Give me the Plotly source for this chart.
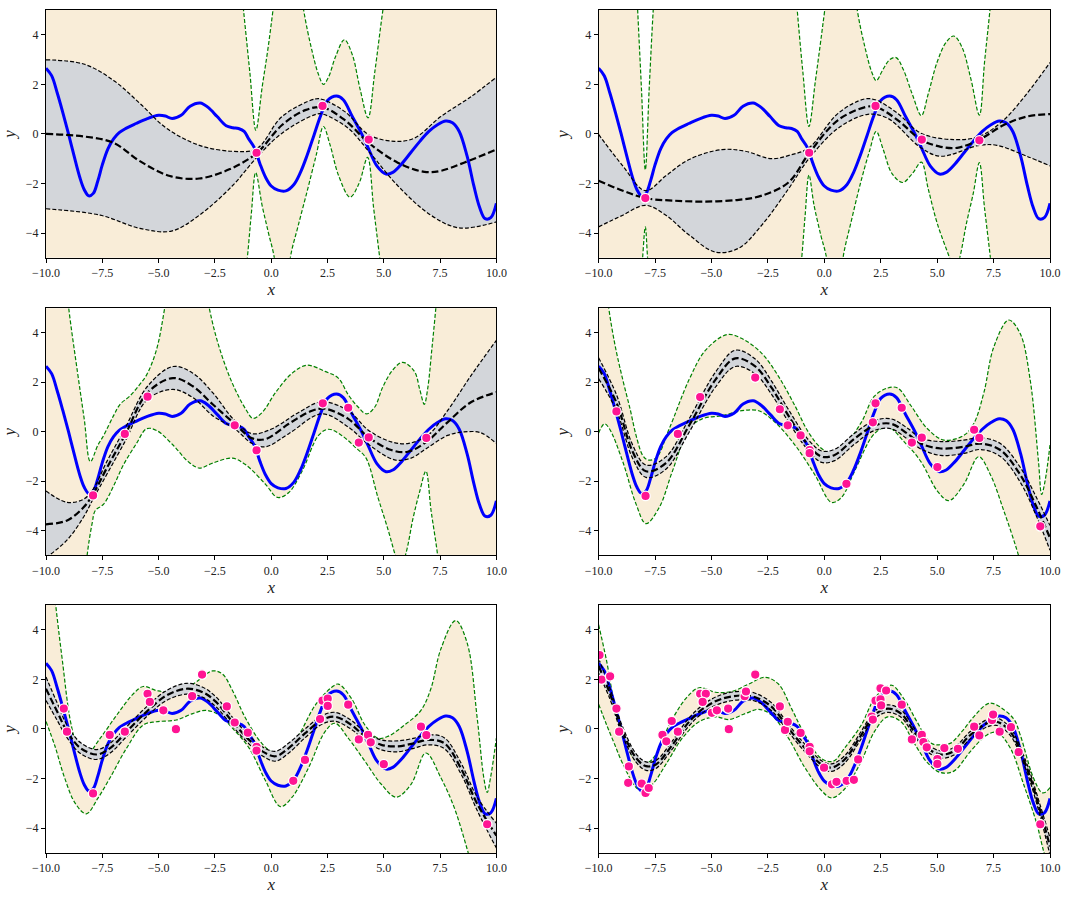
import plotly.graph_objects as go

# ---------------- styling constants ----------------
TAN = "rgb(249,237,216)"
GRAY = "rgb(211,214,218)"
GREEN = "rgb(0,128,0)"
BLUE = "rgb(0,0,255)"
PINK = "rgb(255,20,147)"
FONT = "Liberation Serif"

X_TICKS = [-10.0, -7.5, -5.0, -2.5, 0.0, 2.5, 5.0, 7.5, 10.0]
X_TICK_TEXT = ["\u221210.0", "\u22127.5", "\u22125.0", "\u22122.5", "0.0", "2.5", "5.0", "7.5", "10.0"]
Y_TICKS = [-4, -2, 0, 2, 4]
Y_TICK_TEXT = ["\u22124", "\u22122", "0", "2", "4"]

# ---------------- true function (blue) ----------------
TRUE_CURVE = [(-10, 2.65), (-9.75, 2.35), (-9.5, 1.65), (-9.25, 0.85), (-9.0, 0.0), (-8.75, -0.9),
              (-8.5, -1.75), (-8.3, -2.25), (-8.1, -2.5), (-7.9, -2.4), (-7.7, -1.9), (-7.5, -1.25),
              (-7.25, -0.6), (-7.0, -0.2), (-6.75, 0.05), (-6.5, 0.2), (-6.0, 0.42), (-5.5, 0.62),
              (-5.0, 0.75), (-4.7, 0.72), (-4.4, 0.62), (-4.0, 0.75), (-3.6, 1.12), (-3.15, 1.25),
              (-2.8, 1.07), (-2.4, 0.7), (-2.0, 0.33), (-1.7, 0.25), (-1.45, 0.22), (-1.2, 0.1),
              (-1.0, -0.2), (-0.75, -0.55), (-0.5, -1.2), (-0.25, -1.75), (0.0, -2.1), (0.3, -2.27),
              (0.65, -2.3), (1.0, -2.05), (1.3, -1.55), (1.6, -0.85), (1.9, -0.05), (2.2, 0.75),
              (2.5, 1.35), (2.9, 1.53), (3.2, 1.38), (3.6, 0.7), (4.0, 0.03), (4.3, -0.55),
              (4.7, -1.3), (5.1, -1.62), (5.4, -1.55), (5.8, -1.2), (6.2, -0.75), (6.6, -0.3),
              (7.0, 0.1), (7.4, 0.38), (7.75, 0.52), (8.05, 0.45), (8.35, 0.1), (8.7, -0.9),
              (9.0, -2.1), (9.25, -2.95), (9.5, -3.42), (9.75, -3.38), (10, -2.8)]

# ---------------- panel 1 ----------------
P1_X = [-0.65, 2.28, 4.33]
P1_Y = [-0.76, 1.13, -0.23]
P1_MEAN = [(-10, 0.0), (-8.33, -0.1), (-7.0, -0.36), (-5.83, -1.1), (-4.5, -1.7), (-3.2, -1.8),
           (-1.86, -1.43), (-0.65, -0.78), (0.48, 0.36), (1.51, 0.96), (2.28, 1.07), (3.27, 0.56),
           (4.33, -0.36), (5.62, -1.16), (6.8, -1.53), (7.53, -1.49), (8.56, -1.16), (10, -0.63)]
P1_UP = [(-10, 2.99), (-8.33, 2.82), (-7.0, 2.16), (-5.83, 1.23), (-4.65, 0.23), (-3.19, -0.46),
         (-1.72, -0.7), (-0.65, -0.6), (0.48, 0.7), (1.95, 1.41), (2.28, 1.39), (3.27, 0.9),
         (4.33, -0.03), (5.48, -0.3), (6.36, -0.17), (7.53, 0.7), (8.85, 1.49), (10, 2.29)]
P1_LO = [(-10, -3.02), (-7.59, -3.28), (-5.83, -3.81), (-4.43, -3.92), (-3.19, -3.28), (-1.72, -2.09),
         (-0.65, -0.96), (0.48, 0.03), (1.95, 0.78), (2.28, 0.8), (3.42, 0.23), (4.33, -0.7),
         (5.62, -2.09), (7.09, -3.28), (8.34, -3.79), (10, -3.55)]
P1_GT = [(-10, 9), (-2.0, 9), (-1.45, 7.0), (-1.23, 5.0), (-0.95, 2.5), (-0.68, 0.15), (-0.4, 1.9),
         (-0.15, 3.4), (0.08, 5.0), (0.35, 7.0), (0.8, 9), (1.15, 7.0), (1.44, 5.0), (1.8, 3.4),
         (2.1, 2.4), (2.32, 2.0), (2.55, 2.3), (2.85, 3.1), (3.25, 3.8), (3.6, 3.2), (3.95, 1.8),
         (4.3, 0.65), (4.6, 2.5), (4.96, 5.0), (5.3, 7.0), (5.8, 9), (10, 9)]
P1_GB = [(-10, -9), (-2.0, -9), (-1.3, -7), (-1.06, -5.0), (-0.88, -3.2), (-0.69, -1.56), (-0.4, -2.9),
         (-0.12, -4.0), (0.14, -5.0), (0.4, -7), (0.6, -8), (0.75, -6.5), (0.85, -5.0), (1.2, -3.7),
         (1.6, -2.3), (2.0, -0.85), (2.32, 0.3), (2.6, -0.4), (3.0, -1.7), (3.5, -2.55), (3.9, -2.0),
         (4.28, -0.95), (4.55, -3.0), (4.82, -5.0), (5.1, -7.0), (5.6, -9), (10, -9)]

# ---------------- panel 2 ----------------
P2_X = [-7.93, -0.67, 2.27, 4.32, 6.87]
P2_Y = [-2.59, -0.76, 1.13, -0.23, -0.26]
P2_MEAN = [(-10, -1.89), (-8.93, -2.29), (-7.93, -2.59), (-6.73, -2.69), (-5.26, -2.73), (-3.79, -2.66),
           (-2.77, -2.49), (-1.59, -1.96), (-0.68, -0.79), (0.61, 0.56), (1.86, 1.09), (2.3, 1.09),
           (3.25, 0.56), (4.28, -0.23), (5.16, -0.52), (5.89, -0.56), (6.87, -0.23), (7.95, 0.36),
           (8.97, 0.7), (10, 0.8)]
P2_UP = [(-10, -0.02), (-8.93, -1.29), (-7.93, -2.29), (-7.02, -1.69), (-5.99, -1.03), (-4.53, -0.63),
         (-3.5, -0.7), (-2.33, -1.0), (-1.5, -0.85), (-0.68, -0.56), (0.61, 0.83), (1.78, 1.41),
         (2.3, 1.36), (3.25, 0.83), (4.28, 0.03), (5.74, -0.23), (6.87, -0.1), (7.95, 0.56),
         (8.97, 1.62), (10, 2.88)]
P2_LO = [(-10, -3.75), (-8.93, -3.28), (-7.93, -2.88), (-7.02, -3.28), (-5.99, -4.08), (-4.82, -4.77),
         (-3.79, -4.61), (-2.77, -3.68), (-1.59, -2.22), (-0.68, -1.0), (0.61, 0.23), (1.93, 0.79),
         (2.81, 0.63), (4.28, -0.56), (5.16, -0.9), (6.87, -0.46), (7.65, -0.46), (8.97, -0.9),
         (10, -1.29)]
P2_GT = [(-10, 9), (-8.6, 9), (-8.4, 7.5), (-8.27, 5.0), (-8.1, 1.8), (-7.93, -1.45), (-7.76, 1.8),
         (-7.58, 5.0), (-7.4, 7.5), (-7.2, 9), (-1.6, 9), (-1.4, 7.2), (-1.2, 5.0), (-0.95, 2.5),
         (-0.68, 0.3), (-0.4, 2.1), (-0.18, 3.6), (0.02, 5.0), (0.3, 7), (0.8, 9), (1.2, 7),
         (1.46, 5.0), (1.8, 3.5), (2.1, 2.5), (2.3, 2.15), (2.6, 2.6), (2.9, 3.0), (3.18, 3.08),
         (3.5, 2.6), (3.9, 1.6), (4.3, 0.74), (4.6, 1.6), (5.0, 2.9), (5.4, 3.7), (5.74, 3.95),
         (6.1, 3.5), (6.5, 2.2), (6.87, 0.76), (7.1, 2.9), (7.34, 5.0), (7.6, 7.5), (8.0, 9), (10, 9)]
P2_GB = [(-10, -9), (-8.4, -9), (-8.2, -7), (-8.05, -5.0), (-7.93, -3.75), (-7.83, -5.0), (-7.65, -7),
         (-7.4, -9), (-1.5, -9), (-1.2, -6.8), (-1.0, -5.0), (-0.85, -3.3), (-0.68, -1.66),
         (-0.45, -2.9), (-0.15, -4.1), (0.1, -5.0), (0.35, -7), (0.55, -8), (0.7, -6.5), (0.83, -5.0),
         (1.2, -3.5), (1.6, -2.0), (2.0, -0.7), (2.3, 0.1), (2.6, -0.6), (3.0, -1.6), (3.47, -1.96),
         (3.9, -1.6), (4.3, -1.14), (4.6, -2.2), (5.0, -3.6), (5.55, -5.0), (5.78, -5.6), (6.0, -5.0),
         (6.3, -3.6), (6.6, -2.4), (6.87, -1.16), (7.1, -3.0), (7.36, -5.0), (7.6, -7), (8.0, -9),
         (10, -9)]

# ---------------- panel 3 ----------------
P3_X = [-7.91, -6.5, -5.49, -1.62, -0.65, 2.29, 3.42, 3.89, 4.33, 6.89]
P3_Y = [-2.58, -0.09, 1.42, 0.26, -0.75, 1.15, 0.97, -0.44, -0.23, -0.25]
P3_MEAN = [(-10, -3.75), (-9.06, -3.59), (-8.33, -3.06), (-7.91, -2.53), (-7.3, -1.47), (-6.5, -0.15),
           (-5.49, 1.58), (-4.36, 2.17), (-3.48, 1.84), (-2.6, 1.11), (-1.62, 0.32), (-0.84, -0.27),
           (-0.25, -0.3), (0.78, 0.32), (1.81, 0.85), (2.39, 0.93), (3.42, 0.52), (4.33, -0.23),
           (5.33, -0.74), (6.06, -0.81), (6.89, -0.41), (7.83, 0.38), (8.85, 1.18), (10, 1.6)]
P3_UP = [(-10, -2.4), (-9.06, -2.86), (-8.33, -2.73), (-7.91, -2.33), (-7.3, -1.21), (-6.5, 0.12),
         (-5.49, 1.84), (-4.36, 2.64), (-3.48, 2.37), (-2.6, 1.58), (-1.62, 0.45), (-0.84, -0.08),
         (0.04, 0.12), (1.22, 0.78), (2.25, 1.21), (3.42, 0.85), (4.33, 0.05), (5.33, -0.41),
         (6.06, -0.48), (6.95, -0.15), (7.83, 0.85), (8.85, 2.24), (10, 3.7)]
P3_LO = [(-10, -5.1), (-9.06, -4.38), (-8.33, -3.45), (-7.91, -2.73), (-6.5, -0.41), (-5.49, 1.31),
         (-4.36, 1.71), (-3.48, 1.38), (-2.6, 0.65), (-1.62, 0.12), (-0.84, -0.48), (-0.25, -0.61),
         (0.78, -0.08), (2.25, 0.72), (3.42, 0.19), (4.33, -0.52), (5.48, -1.14), (6.21, -1.07),
         (6.89, -0.68), (7.83, -0.15), (8.56, -0.01), (9.3, -0.04), (10, -0.48)]
P3_GT = [(-10, 9), (-9.4, 9), (-9.2, 7), (-8.99, 5.0), (-8.6, 2.4), (-8.3, 0.5), (-8.03, -1.21),
         (-7.7, -0.55), (-7.44, -0.15), (-7.0, 0.65), (-6.71, 1.11), (-6.27, 1.45), (-5.85, 1.9),
         (-5.53, 2.3), (-5.1, 3.3), (-4.73, 5.0), (-4.4, 7), (-3.8, 9), (-3.2, 7.5), (-2.75, 5.0),
         (-2.31, 3.42), (-1.73, 1.97), (-1.13, 0.91), (-0.81, 0.54), (-0.4, 0.78), (0.19, 1.58),
         (0.93, 2.37), (1.59, 2.69), (2.39, 2.44), (2.98, 2.17), (3.42, 1.5), (3.86, 1.0), (4.23, 0.72),
         (4.6, 1.0), (4.95, 1.8), (5.4, 2.5), (5.84, 2.81), (6.36, 2.44), (6.6, 1.7), (6.8, 1.11),
         (6.95, 1.75), (7.13, 3.3), (7.31, 5.0), (7.5, 7), (7.9, 9), (10, 9)]
P3_GB = [(-10, -9), (-8.6, -9), (-8.35, -7), (-8.18, -5.05), (-7.95, -3.7), (-7.81, -3.19), (-7.44, -2.93),
         (-7.0, -2.2), (-6.56, -1.34), (-6.0, -0.5), (-5.53, 0.12), (-5.09, 0.05), (-4.36, -0.54),
         (-3.7, -1.2), (-3.19, -1.47), (-2.6, -1.27), (-1.72, -1.07), (-1.13, -1.34), (-0.25, -2.13),
         (0.28, -2.66), (0.78, -2.46), (1.37, -1.6), (2.1, -0.15), (2.54, 0.1), (3.13, -0.15),
         (3.79, -0.68), (4.2, -1.05), (4.74, -2.66), (5.2, -4.0), (5.48, -4.91), (5.72, -5.6),
         (5.99, -4.9), (6.3, -3.5), (6.6, -2.4), (6.87, -1.6), (7.1, -3.2), (7.39, -5.0), (7.6, -7),
         (8.0, -9), (10, -9)]

# ---------------- panel 4 ----------------
P4_X = [-9.21, -7.92, -6.49, -5.5, -3.06, -1.97, -1.62, -1.05, -0.65, -0.65,
        0.98, 2.15, 2.27, 3.43, 3.88, 4.32, 5.01, 6.64, 6.87, 9.57]
P4_Y = [0.82, -2.6, -0.09, 1.4, 2.19, 0.91, 0.26, -0.15, -0.74, -0.87,
        -2.11, 0.38, 1.15, 0.97, -0.44, -0.24, -1.43, 0.08, -0.25, -3.83]
# (x, mean, half-width of grey band)
P4_MEAN = [(-10, 2.57, 0.42), (-9.21, 1.18, 0.32), (-8.49, -0.81, 0.27), (-7.9, -1.6, 0.25),
           (-7.02, -1.27, 0.25), (-5.99, 0.25, 0.27), (-4.82, 2.11, 0.3), (-3.94, 2.97, 0.33),
           (-3.06, 2.64, 0.3), (-2.33, 1.77, 0.27), (-1.59, 0.65, 0.25), (-0.71, -0.54, 0.22),
           (-0.12, -1.01, 0.23), (0.46, -0.94, 0.23), (1.34, -0.28, 0.22), (2.22, 0.25, 0.2),
           (2.96, 0.32, 0.2), (3.69, -0.08, 0.22), (4.28, -0.48, 0.22), (5.16, -0.68, 0.28),
           (6.18, -0.61, 0.27), (6.92, -0.48, 0.24), (7.8, -0.74, 0.26), (8.68, -1.74, 0.3),
           (9.41, -3.06, 0.38), (10, -4.3, 0.5)]
P4_GT = [(-10, 9), (-9.8, 7), (-9.55, 5.0), (-9.25, 3.4), (-8.93, 2.11), (-8.6, 0.9), (-8.34, -0.15),
         (-8.05, -0.95), (-7.83, -1.14), (-7.46, -1.07), (-6.87, 0.12), (-5.99, 2.11), (-5.26, 3.3),
         (-4.31, 3.93), (-3.65, 3.77), (-2.77, 3.17), (-2.03, 2.24), (-1.3, 1.05), (-0.71, -0.01),
         (-0.12, -0.68), (0.32, -0.87), (0.9, -0.54), (1.64, 0.38), (2.22, 1.44), (2.81, 1.77),
         (3.25, 1.77), (3.84, 1.05), (4.57, 0.12), (5.3, -0.34), (6.18, -0.15), (6.62, 0.32),
         (7.07, 1.58), (7.51, 3.43), (8.17, 4.52), (8.68, 3.97), (9.12, 2.11), (9.49, -1.21),
         (9.63, -2.54), (9.78, -2.0), (10, -0.54)]
P4_GB = [(-10, -0.05), (-9.74, 0.32), (-9.52, 0.12), (-8.93, -1.21), (-8.34, -2.93), (-7.9, -3.72),
         (-7.31, -3.06), (-6.73, -1.6), (-5.99, 0.12), (-5.41, 0.52), (-4.53, 0.65), (-3.65, 0.85),
         (-2.91, 0.85), (-2.18, 0.38), (-1.3, -0.54), (-0.42, -1.74), (0.32, -2.86), (0.76, -2.66),
         (1.34, -1.6), (2.22, -0.08), (2.81, 0.19), (3.54, -0.41), (4.28, -1.21), (5.01, -2.4),
         (5.52, -2.79), (6.18, -2.13), (6.84, -1.01), (7.36, -1.74), (7.95, -3.19), (8.53, -4.78),
         (8.9, -6), (9.3, -7.5), (10, -9)]

# ---------------- panel 5 ----------------
P5_X = [-9.21, -9.07, -7.91, -7.17, -6.5, -5.49, -5.39, -4.79, -4.23, -3.51,
        -3.07, -1.97, -1.62, -1.04, -0.65, -0.65, 0.98, 1.5, 2.17, 2.28,
        2.51, 2.51, 3.42, 3.89, 4.3, 4.42, 5.0, 6.65, 6.89, 9.59]
P5_Y = [0.82, -0.11, -2.6, -0.24, -0.11, 1.42, 1.09, 0.75, -0.01, 1.32,
        2.19, 0.91, 0.26, -0.15, -0.72, -0.87, -2.09, -1.25, 0.4, 1.14,
        1.22, 0.93, 0.98, -0.42, -0.24, -0.54, -1.42, 0.09, -0.25, -3.84]
P5_MEAN = [(-10, 1.62, 0.47), (-9.5, 0.69, 0.35), (-9.06, -0.11, 0.25), (-8.47, -0.77, 0.22),
           (-7.74, -1.03, 0.2), (-7.15, -0.77, 0.2), (-6.42, -0.11, 0.2), (-5.54, 0.69, 0.2),
           (-4.65, 1.35, 0.2), (-3.77, 1.62, 0.22), (-3.04, 1.48, 0.2), (-2.45, 1.09, 0.2),
           (-1.72, 0.29, 0.18), (-0.98, -0.44, 0.17), (-0.4, -0.9, 0.18), (0.19, -1.1, 0.2),
           (0.78, -0.77, 0.2), (1.51, -0.17, 0.18), (2.25, 0.36, 0.17), (2.83, 0.49, 0.18),
           (3.57, 0.16, 0.18), (4.16, -0.3, 0.17), (4.89, -0.64, 0.2), (5.62, -0.7, 0.22),
           (6.36, -0.57, 0.2), (6.95, -0.44, 0.2), (7.68, -0.57, 0.22), (8.41, -1.56, 0.22),
           (9.15, -3.02, 0.27), (10, -4.3, 0.5)]
P5_GT = [(-10, 9), (-9.8, 7), (-9.57, 5.0), (-9.28, 2.81), (-8.91, 0.29), (-8.62, -0.64), (-8.21, -1.03),
         (-7.59, -0.37), (-6.86, 0.56), (-6.12, 1.42), (-5.68, 1.71), (-5.1, 1.55), (-4.36, 1.48),
         (-3.48, 1.81), (-2.6, 2.34), (-2.16, 2.21), (-1.72, 1.55), (-1.13, 0.42), (-0.4, -0.6),
         (0.19, -1.0), (0.63, -0.85), (1.22, -0.24), (1.95, 0.95), (2.69, 1.68), (2.98, 1.81),
         (3.57, 1.22), (4.16, 0.16), (4.74, -0.37), (5.18, -0.3), (5.92, 0.16), (6.65, 0.75),
         (7.09, 1.62), (7.53, 3.21), (8.19, 4.37), (8.7, 3.47), (9.15, 0.42), (9.44, -1.96),
         (9.59, -2.56), (9.74, -1.96), (10, -0.37)]
P5_GB = [(-10, 0.3), (-9.6, -0.7), (-9.2, -1.9), (-8.7, -3.0), (-8.21, -3.42), (-7.7, -2.8),
         (-7.15, -1.96), (-6.42, -0.77), (-5.68, 0.16), (-5.1, 0.29), (-4.22, 0.36), (-3.48, 0.62),
         (-2.89, 0.75), (-2.31, 0.56), (-1.72, 0.03), (-0.98, -0.77), (-0.25, -2.09), (0.41, -3.13),
         (0.93, -2.75), (1.66, -1.56), (2.39, -0.11), (2.83, 0.23), (3.42, -0.37), (4.16, -1.3),
         (4.89, -2.23), (5.55, -2.75), (6.21, -2.23), (6.87, -0.97), (7.53, -1.96), (8.12, -3.15),
         (8.71, -4.87), (9.2, -6.5), (10, -8)]

# ---------------- panel 6 ----------------
P6_POINTS = [(-9.96, 2.98), (-9.87, 1.99), (-9.49, 2.12), (-9.21, 0.82), (-9.09, -0.11), (-8.66, -1.51),
             (-8.69, -2.17), (-8.09, -2.2), (-7.92, -2.58), (-7.78, -2.38), (-7.17, -0.24), (-7.0, -0.5),
             (-6.76, 0.32), (-6.49, -0.11), (-5.5, 1.42), (-5.25, 1.42), (-5.39, 1.09), (-4.98, 0.65),
             (-4.76, 0.75), (-4.26, 0.82), (-4.23, -0.01), (-3.53, 1.32), (-3.47, 1.51), (-3.06, 2.19),
             (-1.97, 0.91), (-1.74, -0.04), (-1.62, 0.29), (-1.05, -0.16), (-0.65, -0.72), (-0.65, -0.9),
             (-0.01, -1.56), (0.34, -2.23), (0.54, -2.13), (0.99, -2.09), (1.31, -2.05), (1.5, -1.23),
             (2.1, 0.5), (2.15, 0.38), (2.27, 1.14), (2.49, 1.64), (2.49, 1.19), (2.52, 0.95),
             (2.74, 1.55), (3.43, 0.98), (3.88, -0.42), (4.32, -0.24), (4.39, -0.53), (4.54, -0.74),
             (5.01, -1.21), (5.01, -1.41), (5.32, -0.77), (5.92, -0.8), (6.64, 0.09), (6.87, -0.26),
             (7.43, 0.36), (7.48, 0.58), (7.77, -0.11), (8.27, 0.07), (8.61, -0.93), (9.57, -3.84)]
P6_MEAN = [(-10, 2.54, 0.3), (-9.52, 1.48, 0.22), (-8.93, -0.11, 0.18), (-8.34, -1.17, 0.17),
           (-7.9, -1.5, 0.17), (-7.46, -1.43, 0.16), (-6.73, -0.64, 0.16), (-5.99, 0.29, 0.16),
           (-5.26, 0.89, 0.16), (-4.53, 1.22, 0.17), (-3.65, 1.35, 0.17), (-3.06, 1.28, 0.16),
           (-2.33, 0.89, 0.16), (-1.59, 0.03, 0.15), (-0.86, -0.77, 0.15), (-0.12, -1.43, 0.15),
           (0.32, -1.56, 0.15), (0.9, -1.23, 0.15), (1.64, -0.24, 0.15), (2.22, 0.56, 0.15),
           (2.81, 0.82, 0.15), (3.4, 0.62, 0.15), (3.98, -0.11, 0.15), (4.57, -0.77, 0.15),
           (5.16, -1.03, 0.15), (5.74, -0.9, 0.15), (6.48, -0.24, 0.15), (7.21, 0.23, 0.15),
           (7.65, 0.29, 0.15), (8.24, -0.11, 0.15), (8.97, -1.56, 0.17), (9.56, -3.28, 0.22),
           (10, -4.74, 0.35)]
P6_GT = [(-10, 4.2), (-9.66, 2.81), (-9.22, 0.69), (-8.78, -0.5), (-8.34, -1.3), (-7.9, -1.4),
         (-7.46, -1.03), (-6.87, 0.16), (-6.14, 1.22), (-5.55, 1.66), (-4.82, 1.48), (-4.09, 1.51),
         (-3.35, 1.81), (-2.62, 2.08), (-2.03, 1.81), (-1.45, 0.82), (-0.86, -0.24), (-0.12, -1.2),
         (0.4, -1.3), (0.9, -0.77), (1.64, 0.16), (2.22, 1.22), (2.81, 1.72), (3.03, 1.75),
         (3.62, 1.08), (4.1, 0.3), (4.72, -0.57), (5.16, -0.64), (5.6, -0.57), (6.1, -0.1),
         (6.62, 0.49), (7.21, 1.0), (7.5, 1.02), (8.38, 0.42), (8.68, -0.24), (9.26, -1.96),
         (9.63, -2.56), (9.78, -2.56), (10, -2.36)]
P6_GB = [(-10, 1.0), (-9.66, 0.2), (-9.3, -0.6), (-8.93, -1.4), (-8.34, -2.36), (-8.05, -2.49),
         (-7.61, -2.23), (-7.02, -1.43), (-6.29, -0.37), (-5.55, 0.29), (-4.82, 0.49), (-4.23, 0.38),
         (-3.5, 0.62), (-2.91, 0.79), (-2.33, 0.56), (-1.59, -0.37), (-0.86, -1.56), (-0.12, -2.49),
         (0.32, -2.78), (0.9, -2.42), (1.64, -1.3), (2.22, -0.11), (2.81, 0.49), (3.4, 0.29),
         (3.98, -0.57), (4.57, -1.36), (5.16, -1.76), (5.74, -1.7), (6.48, -0.9), (7.21, -0.24),
         (7.65, -0.14), (8.24, -0.77), (8.83, -2.23), (9.41, -3.81), (9.7, -4.87), (10, -5.8)]


def unzip(pairs):
    return [p[0] for p in pairs], [p[1] for p in pairs]


def band_from_mean(triples):
    xs = [t[0] for t in triples]
    m = [t[1] for t in triples]
    up = [(t[0], t[1] + t[2]) for t in triples]
    lo = [(t[0], t[1] - t[2]) for t in triples]
    return list(zip(xs, m)), up, lo


p4m, p4u, p4l = band_from_mean(P4_MEAN)
p5m, p5u, p5l = band_from_mean(P5_MEAN)
p6m, p6u, p6l = band_from_mean(P6_MEAN)
p6x, p6y = unzip(P6_POINTS)

PANELS = [
    dict(px=P1_X, py=P1_Y, mean=P1_MEAN, up=P1_UP, lo=P1_LO, gt=P1_GT, gb=P1_GB),
    dict(px=P2_X, py=P2_Y, mean=P2_MEAN, up=P2_UP, lo=P2_LO, gt=P2_GT, gb=P2_GB),
    dict(px=P3_X, py=P3_Y, mean=P3_MEAN, up=P3_UP, lo=P3_LO, gt=P3_GT, gb=P3_GB),
    dict(px=P4_X, py=P4_Y, mean=p4m, up=p4u, lo=p4l, gt=P4_GT, gb=P4_GB),
    dict(px=P5_X, py=P5_Y, mean=p5m, up=p5u, lo=p5l, gt=P5_GT, gb=P5_GB),
    dict(px=p6x, py=p6y, mean=p6m, up=p6u, lo=p6l, gt=P6_GT, gb=P6_GB),
]

XDOM = [[0.0, 0.4486], [0.5504, 1.0]]
YDOM = [[0.706, 1.0], [0.3532, 0.6463], [0.0, 0.2943]]

fig = go.Figure()
SPL = dict(shape="spline", smoothing=1.0)
tx, ty = unzip(TRUE_CURVE)

layout_axes = {}
for i, p in enumerate(PANELS):
    n = i + 1
    xa = "x" if n == 1 else f"x{n}"
    ya = "y" if n == 1 else f"y{n}"
    common = dict(xaxis=xa, yaxis=ya, showlegend=False, hoverinfo="skip")

    gbx, gby = unzip(p["gb"])
    gtx, gty = unzip(p["gt"])
    lox, loy = unzip(p["lo"])
    upx, upy = unzip(p["up"])
    mx, my = unzip(p["mean"])

    # tan predictive band
    fig.add_trace(go.Scatter(x=gbx, y=gby, mode="lines", line=dict(width=0, **SPL), **common))
    fig.add_trace(go.Scatter(x=gtx, y=gty, mode="lines", line=dict(width=0, **SPL),
                             fill="tonexty", fillcolor=TAN, **common))
    # green dashed borders
    for gx, gy in ((gbx, gby), (gtx, gty)):
        fig.add_trace(go.Scatter(x=gx, y=gy, mode="lines",
                                 line=dict(color=GREEN, width=1.2, dash="4px,2px", **SPL), **common))
    # grey band
    fig.add_trace(go.Scatter(x=lox, y=loy, mode="lines", line=dict(width=0, **SPL), **common))
    fig.add_trace(go.Scatter(x=upx, y=upy, mode="lines", line=dict(width=0, **SPL),
                             fill="tonexty", fillcolor=GRAY, **common))
    # true function
    fig.add_trace(go.Scatter(x=tx, y=ty, mode="lines", line=dict(color=BLUE, width=3, **SPL), **common))
    # band bounds and mean
    for bx, by in ((lox, loy), (upx, upy)):
        fig.add_trace(go.Scatter(x=bx, y=by, mode="lines",
                                 line=dict(color="black", width=1.2, dash="4px,2px", **SPL), **common))
    fig.add_trace(go.Scatter(x=mx, y=my, mode="lines",
                             line=dict(color="black", width=2.2, dash="7px,3px", **SPL), **common))
    # observations
    fig.add_trace(go.Scatter(x=p["px"], y=p["py"], mode="markers",
                             marker=dict(color=PINK, size=9.5, line=dict(color="white", width=1.3)),
                             **common))

    r, c = i // 2, i % 2
    axis_style = dict(showline=True, mirror=True, linecolor="black", linewidth=1,
                      ticks="outside", ticklen=4, tickwidth=1, tickcolor="black",
                      showgrid=False, zeroline=False,
                      tickfont=dict(family=FONT, size=12, color="#222"))
    layout_axes["xaxis" if n == 1 else f"xaxis{n}"] = dict(
        domain=XDOM[c], anchor=ya, range=[-10, 10], tickvals=X_TICKS, ticktext=X_TICK_TEXT,
        title=dict(text="<i>x</i>", font=dict(family=FONT, size=17, color="#222"), standoff=3),
        **axis_style)
    layout_axes["yaxis" if n == 1 else f"yaxis{n}"] = dict(
        domain=YDOM[r], anchor=xa, range=[-5, 5], tickvals=Y_TICKS, ticktext=Y_TICK_TEXT,
        title=dict(text="<i>y</i>", font=dict(family=FONT, size=17, color="#222"), standoff=5),
        **axis_style)

fig.update_layout(width=1070, height=899, margin=dict(l=45, r=13, t=9, b=37),
                  plot_bgcolor="white", paper_bgcolor="white", hovermode=False, **layout_axes)
fig.write_html("out.html", config={"displayModeBar": False, "staticPlot": True},
               post_script="document.body.style.margin='0px';document.body.style.overflow='hidden';")
